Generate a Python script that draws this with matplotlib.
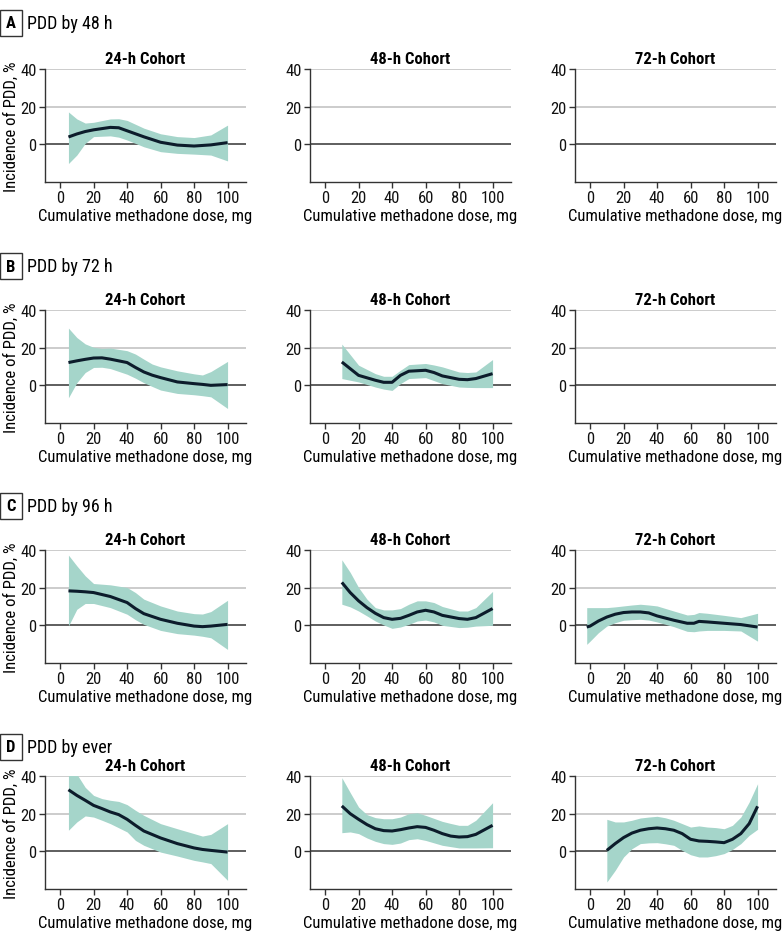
import matplotlib
matplotlib.use('Agg')
import matplotlib.pyplot as plt
from matplotlib import font_manager

# use a narrow face when one is there, else Lato
names = {f.name for f in font_manager.fontManager.ttflist}
fam = [n for n in ['Roboto Condensed', 'Noto Sans Condensed', 'Liberation Sans Narrow',
                   'Open Sans Condensed', 'Lato'] if n in names] + ['DejaVu Sans']
plt.rcParams['font.family'] = fam
narrow = fam[0] != 'Lato'

# ---- data ----
sections = ['PDD by 48 h', 'PDD by 72 h', 'PDD by 96 h', 'PDD by ever']
letters = ['A', 'B', 'C', 'D']
cohorts = ['24-h Cohort', '48-h Cohort', '72-h Cohort']
xticks = [0, 20, 40, 60, 80, 100]
yticks = [0, 20, 40]

# A, 24-h cohort
a24_x = [5, 10, 15, 20, 30, 35, 40, 50, 60, 70, 80, 90, 100]
a24_y = [3.9, 5.5, 6.8, 7.7, 9.0, 8.8, 7.2, 4.0, 1.1, -0.4, -0.9, -0.3, 0.9]
a24_hi = [17.2, 13.5, 11.3, 11.7, 13.5, 13.6, 12.7, 8.6, 5.6, 4.1, 3.6, 5.0, 10.2]
a24_lo = [-10.2, -5.7, 0.5, 4.1, 4.5, 3.8, 2.3, -1.3, -3.9, -4.8, -5.2, -5.7, -8.8]

# B, 24-h cohort
b24_x = [5, 10, 15, 20, 25, 30, 40, 45, 50, 55, 60, 70, 80, 85, 90, 100]
b24_y = [12.1, 13.0, 13.8, 14.5, 14.6, 13.9, 12.1, 9.5, 7.1, 5.4, 4.1, 1.8, 0.9, 0.5, 0.0, 0.4]
b24_hi = [30.4, 25.4, 22.0, 20.2, 19.6, 19.8, 18.4, 16.6, 13.9, 11.3, 9.8, 7.7, 6.1, 5.5, 7.3, 12.7]
b24_lo = [-6.6, 1.4, 6.8, 9.5, 9.6, 8.9, 5.9, 3.8, 1.4, -0.6, -2.5, -4.3, -5.0, -5.5, -6.1, -12.3]

# B, 48-h cohort
b48_x = [10, 20, 30, 35, 40, 45, 50, 60, 65, 70, 80, 85, 90, 100]
b48_y = [12.4, 5.3, 2.7, 1.6, 1.6, 5.3, 7.5, 8.0, 6.8, 5.0, 3.2, 3.0, 3.6, 6.2]
b48_hi = [21.9, 10.7, 6.2, 4.8, 4.8, 8.0, 11.0, 11.6, 10.8, 9.8, 7.1, 6.8, 7.1, 13.7]
b48_lo = [3.6, 1.8, -0.9, -2.0, -2.7, 0.9, 3.6, 4.1, 2.5, 0.9, -0.9, -1.1, -1.2, -1.2]

# C, 24-h cohort
c24_x = [5, 10, 15, 20, 30, 40, 45, 50, 60, 70, 80, 85, 90, 100]
c24_y = [18.3, 18.1, 17.8, 17.4, 15.3, 12.1, 8.9, 6.2, 3.2, 1.1, -0.4, -0.7, -0.4, 0.5]
c24_hi = [37.3, 31.6, 26.3, 22.2, 21.5, 20.1, 17.4, 13.9, 10.3, 7.6, 6.2, 6.0, 7.3, 13.3]
c24_lo = [-0.4, 8.5, 11.6, 11.6, 9.4, 5.9, 3.0, 0.5, -2.7, -4.4, -5.2, -5.8, -6.6, -12.8]

# C, 48-h cohort
c48_x = [10, 15, 20, 25, 30, 35, 40, 45, 50, 55, 60, 65, 70, 80, 85, 90, 100]
c48_y = [22.8, 17.4, 13.0, 9.4, 6.4, 4.1, 3.2, 3.7, 5.3, 7.1, 8.0, 7.1, 5.3, 3.6, 3.2, 4.1, 8.9]
c48_hi = [34.8, 28.1, 20.1, 13.9, 9.4, 8.2, 8.2, 8.9, 11.2, 13.0, 13.0, 12.1, 10.0, 7.6, 7.6, 9.4, 18.0]
c48_lo = [11.2, 9.8, 7.6, 5.0, 2.3, 0.2, -1.6, -0.9, 0.5, 2.3, 2.8, 1.8, 0.0, -1.2, -1.0, -0.4, 0.0]

# C, 72-h cohort
c72_x = [-2, 0, 5, 10, 15, 20, 25, 30, 35, 40, 50, 58, 62, 65, 70, 80, 90, 100]
c72_y = [-0.9, -0.4, 2.3, 4.4, 5.9, 6.8, 7.1, 7.1, 6.6, 5.0, 2.7, 1.1, 1.1, 2.1, 1.8, 1.1, 0.4, -0.9]
c72_hi = [9.4, 9.4, 9.4, 9.4, 9.8, 10.3, 10.8, 11.2, 10.8, 10.3, 7.6, 5.5, 5.8, 6.8, 6.4, 5.3, 4.1, 6.4]
c72_lo = [-10.1, -8.4, -3.9, -0.4, 1.4, 2.7, 3.0, 3.2, 2.8, 1.8, -0.7, -3.2, -3.4, -3.0, -2.7, -2.7, -3.0, -8.4]

# D, 24-h cohort
d24_x = [5, 10, 15, 20, 25, 30, 35, 40, 45, 50, 60, 70, 80, 85, 90, 100]
d24_y = [32.7, 29.7, 27.1, 24.4, 22.7, 20.9, 19.5, 17.0, 13.8, 10.8, 7.1, 4.1, 1.8, 1.0, 0.5, -0.4]
d24_hi = [43.0, 41.0, 34.0, 29.7, 28.0, 27.1, 26.5, 24.8, 21.8, 19.1, 14.7, 12.0, 9.4, 8.1, 9.0, 14.7]
d24_lo = [11.2, 15.6, 18.8, 18.2, 16.5, 14.7, 12.5, 10.3, 5.8, 3.2, -0.4, -2.5, -4.8, -5.6, -6.5, -15.4]

# D, 48-h cohort
d48_x = [10, 15, 20, 25, 30, 35, 40, 45, 50, 55, 60, 65, 70, 75, 80, 85, 90, 100]
d48_y = [24.1, 20.0, 17.0, 14.2, 12.0, 11.0, 10.8, 11.5, 12.4, 13.1, 12.7, 11.2, 9.4, 8.1, 7.6, 7.8, 9.0, 13.8]
d48_hi = [39.1, 31.2, 23.5, 19.5, 17.9, 17.3, 17.3, 18.2, 20.0, 20.5, 19.1, 17.5, 15.9, 14.8, 13.8, 13.8, 16.5, 25.8]
d48_lo = [9.9, 10.3, 9.4, 7.1, 5.3, 4.1, 3.7, 4.4, 6.2, 6.7, 5.8, 4.5, 3.2, 2.5, 1.8, 1.8, 1.8, 1.9]

# D, 72-h cohort
d72_x = [10, 15, 20, 25, 30, 35, 40, 45, 50, 55, 60, 65, 70, 75, 80, 85, 90, 95, 100]
d72_y = [0.5, 4.1, 7.3, 9.7, 11.2, 12.0, 12.4, 12.0, 11.2, 9.4, 6.4, 5.5, 5.3, 5.0, 4.6, 6.4, 9.4, 14.7, 23.9]
d72_hi = [17.0, 15.6, 15.6, 16.5, 17.7, 18.2, 18.6, 17.8, 16.5, 14.7, 12.9, 13.5, 12.9, 12.6, 12.0, 13.8, 18.2, 26.2, 35.9]
d72_lo = [-16.3, -10.1, -3.0, 1.4, 4.1, 4.5, 4.6, 4.0, 3.2, 0.5, -1.8, -3.0, -3.0, -2.3, -1.2, 1.0, 4.1, 8.5, 11.7]

curves = {
    (0, 0): (a24_x, a24_y, a24_lo, a24_hi),
    (1, 0): (b24_x, b24_y, b24_lo, b24_hi),
    (1, 1): (b48_x, b48_y, b48_lo, b48_hi),
    (2, 0): (c24_x, c24_y, c24_lo, c24_hi),
    (2, 1): (c48_x, c48_y, c48_lo, c48_hi),
    (2, 2): (c72_x, c72_y, c72_lo, c72_hi),
    (3, 0): (d24_x, d24_y, d24_lo, d24_hi),
    (3, 1): (d48_x, d48_y, d48_lo, d48_hi),
    (3, 2): (d72_x, d72_y, d72_lo, d72_hi),
}

# ---- layout (pixels of a 783x945 figure) ----
W, H = 783, 945
fig = plt.figure(figsize=(W / 100, H / 100), dpi=100)

band_col = '#a5d5ca'
line_col = '#0c1c2b'
dark = '#333333'
grid_col = '#c4c4c4'

fs = 12 if narrow else 10.5

col_left = [45, 310, 575]
ax_w = 201
row_top = [70, 311, 551, 777]
ax_h = 113
head_y = [24, 267, 507, 748]

for r in range(4):
    # section heading with boxed letter
    fig.text(11 / W, 1 - head_y[r] / H, letters[r], ha='center', va='center',
             fontsize=fs, fontweight='bold',
             bbox=dict(boxstyle='square,pad=0.35', fc='white', ec=dark, lw=1))
    fig.text(27 / W, 1 - head_y[r] / H, sections[r], ha='left', va='center',
             fontsize=fs + 1)
    for c in range(3):
        ax = fig.add_axes([col_left[c] / W, 1 - (row_top[r] + ax_h) / H,
                           ax_w / W, ax_h / H])
        ax.set_xlim(-9, 111)
        ax.set_ylim(-20, 40)
        for g in [20, 40]:
            ax.axhline(g, color=grid_col, lw=1.2, zorder=0)
        ax.axhline(0, color=dark, lw=1.1, zorder=1)
        if (r, c) in curves:
            x, y, lo, hi = curves[(r, c)]
            ax.fill_between(x, lo, hi, color=band_col, lw=0, zorder=2)
            ax.plot(x, y, color=line_col, lw=2.2, zorder=3,
                    solid_capstyle='butt')
        ax.set_xticks(xticks)
        ax.set_yticks(yticks)
        ax.tick_params(labelsize=fs, color=dark, length=4, width=1,
                       pad=2, labelcolor='#111111')
        for s in ['top', 'right']:
            ax.spines[s].set_visible(False)
        for s in ['left', 'bottom']:
            ax.spines[s].set_color(dark)
            ax.spines[s].set_linewidth(1)
        ax.set_title(cohorts[c], fontsize=fs, fontweight='bold', pad=4)
        ax.set_xlabel('Cumulative methadone dose, mg', fontsize=fs, labelpad=2)
        if c == 0:
            ax.set_ylabel('Incidence of PDD, %', fontsize=fs)
            ax.yaxis.set_label_coords(-0.13, 0.5)

fig.savefig('out.png', dpi=100)
